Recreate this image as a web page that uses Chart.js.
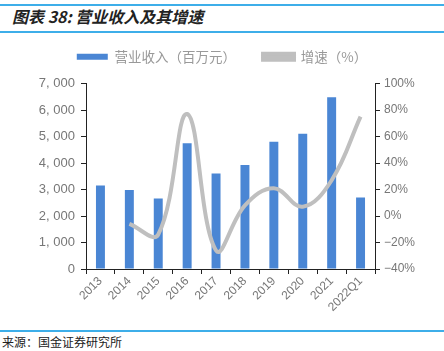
<!DOCTYPE html>
<html>
<head>
<meta charset="utf-8">
<script src="https://cdn.jsdelivr.net/npm/chart.js@4"></script>
<style>
  body { margin: 0; width: 444px; height: 351px; background: #fff; position: relative; overflow: hidden;
         font-family: "Noto Sans CJK SC", "Noto Sans", sans-serif; }
  .rule { position: absolute; left: 0; width: 444px; height: 2px; background: #3daee9; }
  #title { position: absolute; left: 12px; top: 4px; font-size: 16px; font-style: italic; font-weight: bold; color: #222; }
  #source { position: absolute; left: 2px; top: 333px; font-size: 12px; color: #222; }
  #wrap { position: absolute; left: 0; top: 23px; width: 444px; height: 306px; }
</style>
</head>
<body>
<div class="rule" style="top:4px"></div>
<div id="title">图表 38:  营业收入及其增速</div>
<div class="rule" style="top:31px"></div>
<div id="wrap"><canvas id="chart"></canvas></div>
<div class="rule" style="top:330px"></div>
<div id="source">来源：国金证券研究所</div>
<script>
// 数据
const categories = ['2013', '2014', '2015', '2016', '2017', '2018', '2019', '2020', '2021', '2022Q1'];
const revenue = [3150, 2980, 2660, 4750, 3600, 3920, 4800, 5100, 6480, 2700];
const growth = [null, -6, -14, 77, -26, 8, 21, 7, 27, 75];
const leftTicks = [0, 1000, 2000, 3000, 4000, 5000, 6000, 7000];
const rightTicks = [-40, -20, 0, 20, 40, 60, 80, 100];

const tickColor = '#777';

// 图例下方多留一点空间
const legendSpacing = {
    id: 'legendSpacing',
    beforeInit(chart) {
        const origFit = chart.legend.fit;
        chart.legend.fit = function () {
            origFit.call(this);
            this.height += 10;
        };
    }
};

const ctx = document.getElementById('chart').getContext('2d');

new Chart(ctx, {
    type: 'bar',
    data: {
        labels: categories,
        datasets: [
            {
                label: '营业收入（百万元）',
                data: revenue,
                backgroundColor: '#4A86D4',
                barPercentage: 0.31,
                categoryPercentage: 1,
                yAxisID: 'y',
                order: 2
            },
            {
                type: 'line',
                label: '增速（%）',
                data: growth,
                borderColor: '#BFBFBF',
                backgroundColor: '#BFBFBF',
                borderWidth: 4,
                pointRadius: 0,
                tension: 0.4,
                yAxisID: 'y1',
                order: 1
            }
        ]
    },
    plugins: [legendSpacing],
    options: {
        responsive: true,
        maintainAspectRatio: false,
        animation: false,
        layout: { padding: 0 },
        plugins: {
            legend: {
                position: 'top',
                labels: {
                    boxWidth: 31,
                    boxHeight: 6,
                    padding: 27,
                    color: '#999',
                    font: { size: 13.5, family: '"Noto Sans CJK SC"' },
                    sort: (a, b) => a.datasetIndex - b.datasetIndex
                }
            },
            tooltip: { enabled: false }
        },
        scales: {
            x: {
                grid: { drawOnChartArea: false, drawTicks: true, tickLength: 5, color: '#222', offset: true },
                border: { color: '#222', width: 1 },
                ticks: {
                    color: tickColor,
                    maxRotation: 45,
                    minRotation: 45,
                    padding: 0,
                    font: { size: 12, family: '"Liberation Sans"' }
                },
                afterFit: (scale) => { scale.height = 60; }
            },
            y: {
                position: 'left',
                min: 0,
                max: 7000,
                afterBuildTicks: (scale) => { scale.ticks = leftTicks.map(v => ({ value: v })); },
                grid: { drawOnChartArea: false, drawTicks: true, tickLength: 5, color: '#222' },
                border: { color: '#222', width: 1 },
                ticks: {
                    color: tickColor,
                    padding: 6,
                    font: { size: 13, family: '"Liberation Sans"' },
                    callback: (v) => v === 0 ? '0' : (v / 1000) + ', 000'
                },
                afterFit: (scale) => { scale.width = 86; }
            },
            y1: {
                position: 'right',
                min: -40,
                max: 100,
                afterBuildTicks: (scale) => { scale.ticks = rightTicks.map(v => ({ value: v })); },
                grid: { drawOnChartArea: false, drawTicks: true, tickLength: 5, color: '#222' },
                border: { color: '#222', width: 1 },
                ticks: {
                    color: tickColor,
                    padding: 4,
                    font: { size: 12, family: '"Liberation Sans"' },
                    callback: (v) => (v < 0 ? '\u2212' + (-v) : v) + '%'
                },
                afterFit: (scale) => { scale.width = 69; }
            }
        }
    }
});
</script>
</body>
</html>
